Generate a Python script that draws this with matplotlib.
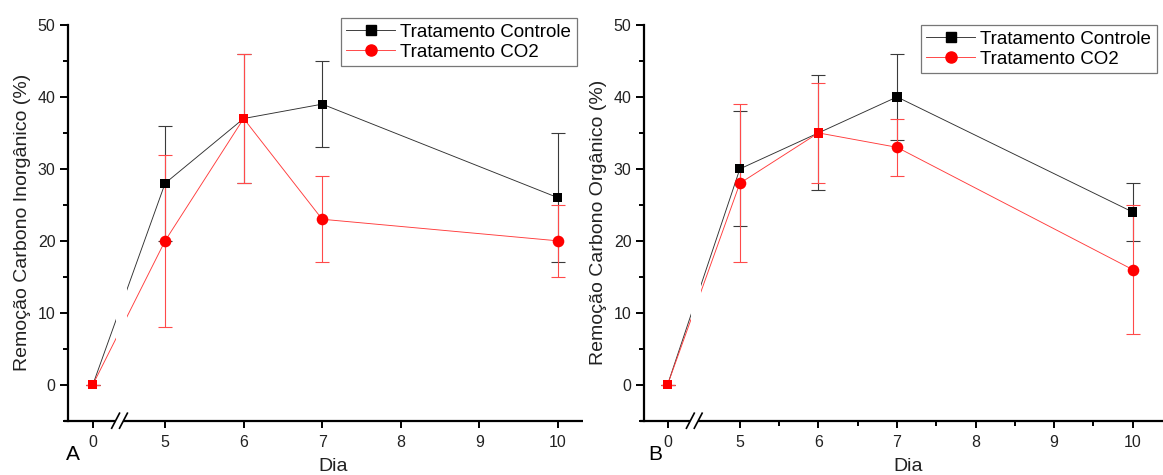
import numpy as np
import matplotlib
matplotlib.use("Agg")
import matplotlib.pyplot as plt
from matplotlib.lines import Line2D

plt.rcParams["font.family"] = ["Liberation Sans", "DejaVu Sans"]

# Sampling days and removal percentages (mean and error) per treatment
dias = np.array([0, 5, 6, 7, 10])
inorg_ctrl = np.array([0, 28, 37, 39, 26])
inorg_ctrl_err = np.array([0, 8, 9, 6, 9])
inorg_co2 = np.array([0, 20, 37, 23, 20])
inorg_co2_err = np.array([0, 12, 9, 6, 5])
org_ctrl = np.array([0, 30, 35, 40, 24])
org_ctrl_err = np.array([0, 8, 8, 6, 4])
org_co2 = np.array([0, 28, 35, 33, 16])
org_co2_err = np.array([0, 11, 7, 4, 9])

tick_days = [0, 5, 6, 7, 8, 9, 10]
series_labels = ["Tratamento Controle", "Tratamento CO2"]
ylabels = ["Remoção Carbono Inorgânico (%)", "Remoção Carbono Orgânico (%)"]
panel_letters = ["A", "B"]
xlabel = "Dia"

# Broken x axis: day 0 is drawn just left of the break, days >= 5 on a linear scale
ZERO_POS = 4.08
BREAK_L, BREAK_R = 4.37, 4.47

CTRL_LINE = "#303030"
CO2_LINE = "#ff3b3b"


def to_pos(d):
    d = np.asarray(d, dtype=float)
    return np.where(d < 5, d + ZERO_POS, d)


W, H = 1163, 475
fig = plt.figure(figsize=(W / 100, H / 100), dpi=100)

panels = [
    dict(rect=(68, 25, 583, 420.7), xlim=(3.764, 10.32), minor=False,
         ctrl=inorg_ctrl, ctrl_err=inorg_ctrl_err, co2=inorg_co2, co2_err=inorg_co2_err,
         leg=(577, 18), letter=(73, 455), xlab_x=0.515),
    dict(rect=(644, 25, 1172, 420.7), xlim=(3.78, 10.49), minor=True,
         ctrl=org_ctrl, ctrl_err=org_ctrl_err, co2=org_co2, co2_err=org_co2_err,
         leg=(1157, 25), letter=(655, 455), xlab_x=0.5),
]

for i, p in enumerate(panels):
    x0, y0, x1, y1 = p["rect"]
    ax = fig.add_axes([x0 / W, 1 - y1 / H, (x1 - x0) / W, (y1 - y0) / H])
    ax.set_xlim(*p["xlim"])
    ax.set_ylim(-5, 50)
    pos = to_pos(dias)

    # control series
    ax.errorbar(pos, p["ctrl"], yerr=p["ctrl_err"], fmt="none", ecolor="#3a3a3a",
                elinewidth=0.8, capsize=5, capthick=0.8, zorder=2)
    ax.plot(pos, p["ctrl"], color=CTRL_LINE, lw=0.65, zorder=2)
    # CO2 series
    ax.errorbar(pos, p["co2"], yerr=p["co2_err"], fmt="none", ecolor="#ff4a4a",
                elinewidth=0.8, capsize=5, capthick=0.8, zorder=2.2)
    ax.plot(pos, p["co2"], color=CO2_LINE, lw=0.65, zorder=2.2)

    same = p["ctrl"] == p["co2"]
    ctrl_face = np.where(same, "#ff0000", "black")
    ax.scatter(pos, p["ctrl"], marker="s", s=44, c=ctrl_face, linewidths=0, zorder=3)
    ax.scatter(pos[~same], p["co2"][~same], marker="o", s=70, c="#ff0000",
               linewidths=0, zorder=3.1)

    # gap in the data lines at the axis break
    ax.axvspan(BREAK_L + 0.01, BREAK_R + 0.04, color="white", lw=0, zorder=2.5)

    # spines
    for s in ("top", "right", "bottom"):
        ax.spines[s].set_visible(False)
    ax.spines["left"].set_linewidth(1.6)
    xt = ax.get_xaxis_transform()
    ax.plot([p["xlim"][0] - 0.05, BREAK_L], [0, 0], color="black", lw=1.6,
            transform=xt, clip_on=False, solid_capstyle="butt", zorder=5)
    ax.plot([BREAK_R, p["xlim"][1]], [0, 0], color="black", lw=1.6,
            transform=xt, clip_on=False, solid_capstyle="butt", zorder=5)
    for bx in (BREAK_L, BREAK_R):
        ax.plot([bx - 0.05, bx + 0.05], [-0.019, 0.019], color="black", lw=1.2,
                transform=xt, clip_on=False, zorder=5)

    # ticks
    ax.set_xticks(to_pos(tick_days))
    ax.set_xticklabels([str(d) for d in tick_days])
    if p["minor"]:
        ax.set_xticks([5.5, 6.5, 7.5, 8.5, 9.5, 10.5], minor=True)
    ax.set_yticks([0, 10, 20, 30, 40, 50])
    ax.set_yticks([-5, 5, 15, 25, 35, 45], minor=True)
    ax.tick_params(axis="both", which="major", direction="out", length=6, width=1.4,
                   labelsize=11.5, labelcolor="#222222", pad=3)
    ax.tick_params(axis="both", which="minor", direction="out", length=3.5, width=1.4)
    ax.tick_params(axis="x", which="major", length=5, pad=5)

    ax.set_ylabel(ylabels[i], fontsize=14, color="#222222", labelpad=5)
    ax.set_xlabel(xlabel, fontsize=14, color="#222222")
    ax.xaxis.set_label_coords(p["xlab_x"], -0.095)

    handles = [
        Line2D([], [], color=CTRL_LINE, lw=0.65, marker="s", ms=6.5, mfc="black", mec="black"),
        Line2D([], [], color=CO2_LINE, lw=0.65, marker="o", ms=8, mfc="#ff0000", mec="#ff0000"),
    ]
    lx, ly = p["leg"]
    leg = ax.legend(handles, series_labels, loc="upper right",
                    bbox_to_anchor=(lx / W, 1 - ly / H), bbox_transform=fig.transFigure,
                    fontsize=13.5, frameon=True, fancybox=False, borderaxespad=0,
                    borderpad=0.3, handlelength=2.6, handletextpad=0.3,
                    labelspacing=0.15)
    leg.get_frame().set_edgecolor("#555555")
    leg.get_frame().set_linewidth(0.9)
    leg.set_zorder(6)

    lx2, ly2 = p["letter"]
    fig.text(lx2 / W, 1 - ly2 / H, panel_letters[i], fontsize=15, ha="center",
             va="center", color="black")

fig.savefig("out.png", dpi=100)
